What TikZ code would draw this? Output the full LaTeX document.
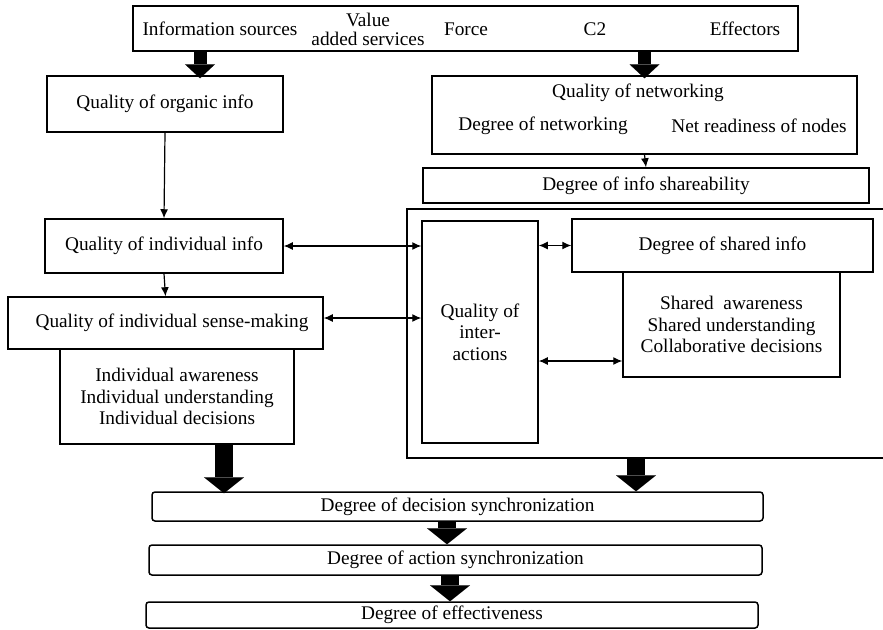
\documentclass[tikz,border=0pt]{standalone}
\usepackage{fontspec}
\setmainfont{Liberation Serif}
\usetikzlibrary{arrows.meta}
\begin{document}
\begin{tikzpicture}[x=1pt,y=-1pt,
  every node/.style={font=\fontsize{19.3}{21.5}\selectfont, inner sep=0pt},
  box/.style={draw, line width=1.5pt, rectangle, align=center},
  roundbox/.style={box, rounded corners=3pt},
  fine/.style={line width=1.2pt, -{Latex[length=9pt,width=8pt]}},
  twoway/.style={line width=1.2pt, {Latex[length=9pt,width=8pt]}-{Latex[length=9pt,width=8pt]}},
  bigarrow/.style={line width=18pt, -{Triangle[width=40pt,length=16pt,line width=0.1pt]}},
  smallarrow/.style={line width=13pt, -{Triangle[width=30pt,length=14pt,line width=0.1pt]}},
]
\useasboundingbox (0,0) rectangle (883,629);
\clip (0,0) rectangle (883,629);

% top row: sources of the force
\node[box, minimum width=665pt, minimum height=45pt] (sources) at (465.5,28.5) {};
\node (tinfo) at (220,29) {Information sources};
\node[align=center, font=\fontsize{19.3}{19}\selectfont] (tvalue) at (368,29) {Value\\added services};
\node (tforce) at (466,29) {Force};
\node (tctwo) at (595,29) {C2};
\node (teff) at (745,29) {Effectors};

% individual column
\node[box, minimum width=236pt, minimum height=56pt] (organic) at (165,104) {Quality of organic info};
\node[box, minimum width=238pt, minimum height=54pt] (indinfo) at (164,246) {Quality of individual info};
\node[box, minimum width=315pt, minimum height=52pt] (sense) at (165.5,323) {};
\node (tsense) at (172,323) {Quality of individual sense-making};
\node[box, minimum width=234pt, minimum height=95pt] (indaw) at (177,396.5)
  {Individual awareness\\Individual understanding\\Individual decisions};

% networking column
\node[box, minimum width=425pt, minimum height=78pt] (networking) at (644.5,115) {};
\node (tqnet) at (638,93) {Quality of networking};
\node (tdnet) at (543,126) {Degree of networking};
\node (tready) at (759,126) {Net readiness of nodes};
\node[box, minimum width=446pt, minimum height=35pt] (share) at (646,185.5) {Degree of info shareability};

% shared domain
\coordinate (otr) at (883,209);
\coordinate (otl) at (407,209);
\coordinate (obl) at (407,458);
\coordinate (obr) at (883,458);
\draw[line width=1.5pt] (otr) -- (otl) -- (obl) -- (obr);
\node[box, minimum width=116pt, minimum height=222pt] (inter) at (480,332) {Quality of\\inter-\\actions};
\node[box, minimum width=301pt, minimum height=53pt] (sharedinfo) at (722.5,245.5) {Degree of shared info};
\node[box, minimum width=217pt, minimum height=105pt] (sharedaw) at (731.5,324.5)
  {Shared~~awareness\\Shared understanding\\Collaborative decisions};

% synchronization chain
\node[roundbox, minimum width=611pt, minimum height=29pt] (decision) at (457.5,506.5) {Degree of decision synchronization};
\node[roundbox, minimum width=613pt, minimum height=30pt] (action) at (455.5,560) {Degree of action synchronization};
\node[roundbox, minimum width=612pt, minimum height=26pt] (effect) at (452,615) {Degree of effectiveness};

% helper positions for the arrows
\coordinate (xe) at (200,0);
\coordinate (xa) at (224,0);
\coordinate (xc) at (447,0);
\coordinate (xd) at (450,0);
\coordinate (outerbot) at (636,458);
\coordinate (yb) at (0,361);

% block arrows
\draw[smallarrow] (sources.south -| xe) -- ([yshift=-3pt]organic.north -| xe);
\draw[smallarrow] (sources.south -| networking.north) -- ([yshift=-3pt]networking.north);
\draw[bigarrow] (indaw.south -| xa) -- ([yshift=-2pt]decision.north -| xa);
\draw[bigarrow] (outerbot) -- (decision.north -| outerbot);
\draw[bigarrow] (decision.south -| xc) -- (action.north -| xc);
\draw[bigarrow] (action.south -| xd) -- (effect.north -| xd);

% thin arrows
\draw[fine] (organic.south) -- (indinfo.north);
\draw[fine] (indinfo.south) -- (sense.north);
\draw[fine] (networking.south) -- (share.north);
\draw[twoway] (indinfo.east) -- (indinfo.east -| inter.west);
\draw[twoway] ([yshift=5pt]sense.east) -- ([yshift=5pt]sense.east -| inter.west);
\draw[twoway] (inter.east |- sharedinfo.west) -- (sharedinfo.west);
\draw[twoway] (inter.east |- yb) -- (sharedaw.west |- yb);
\end{tikzpicture}
\end{document}
